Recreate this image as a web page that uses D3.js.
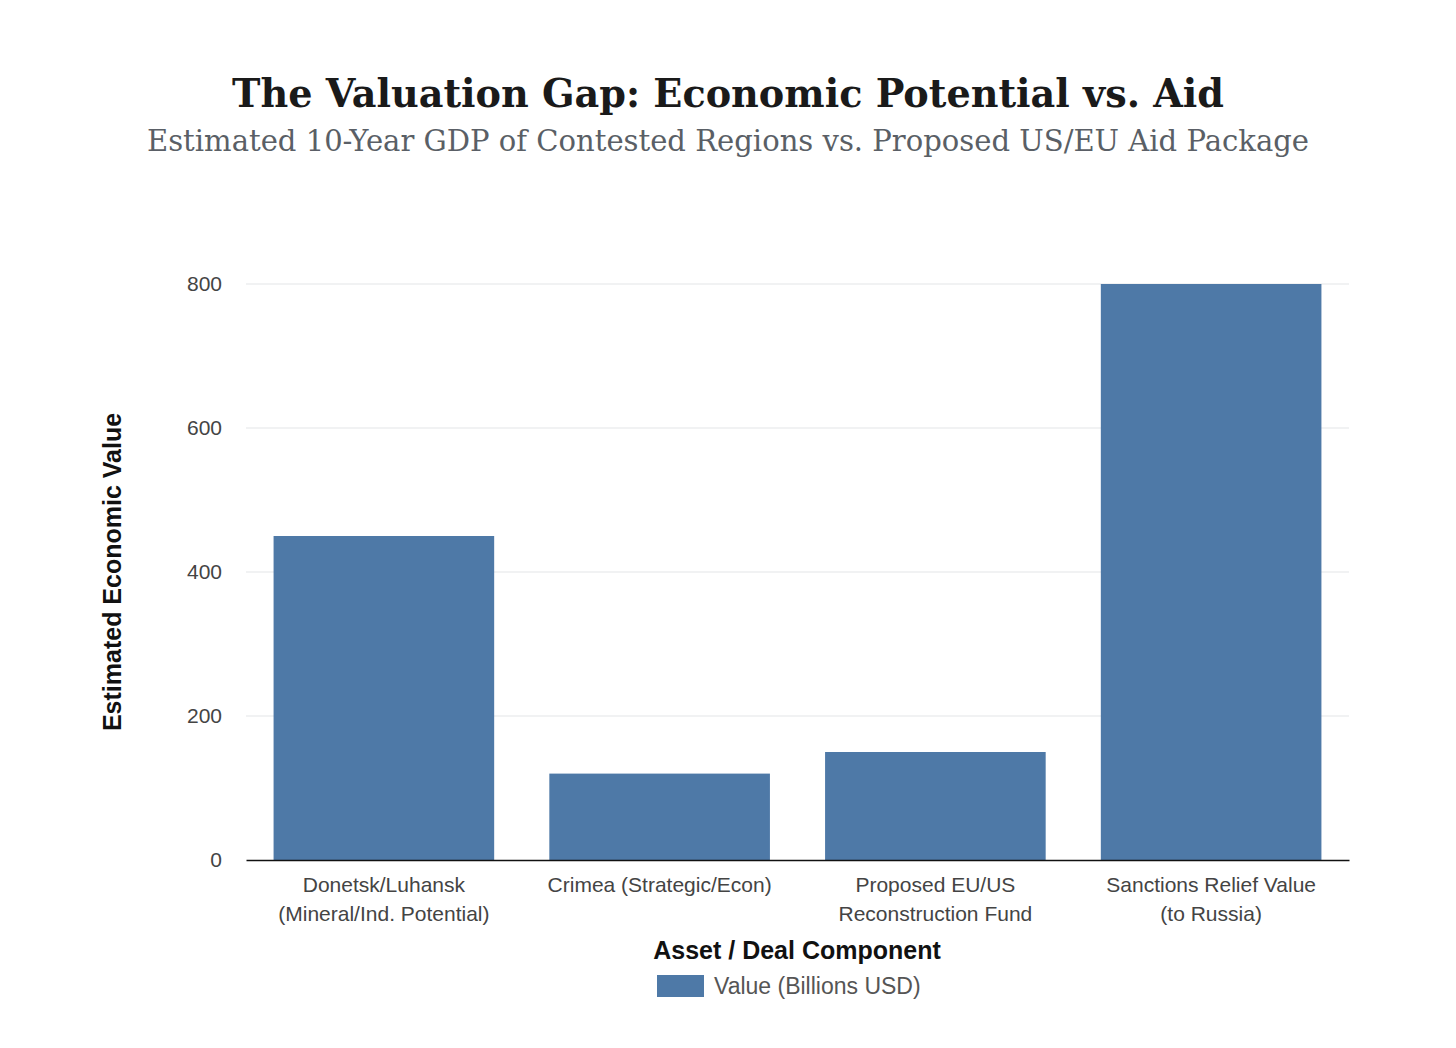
<!DOCTYPE html>
<html>
<head>
<meta charset="utf-8">
<script src="https://cdn.jsdelivr.net/npm/d3@7"></script>
<style>
  body { margin: 0; background: #fff; }
  .tick text { font-family: "Liberation Sans", Arial, sans-serif; }
</style>
</head>
<body>
<div id="chart"></div>
<script>
var svgWidth = 1456;
var svgHeight = 1048;

var margin = { top: 284, right: 107, bottom: 188, left: 246 };
var width = svgWidth - margin.left - margin.right;
var height = svgHeight - margin.top - margin.bottom;

// data
var categories = [
  ["Donetsk/Luhansk", "(Mineral/Ind. Potential)"],
  ["Crimea (Strategic/Econ)"],
  ["Proposed EU/US", "Reconstruction Fund"],
  ["Sanctions Relief Value", "(to Russia)"]
];
var values = [450, 120, 150, 800];
var yTicks = [0, 200, 400, 600, 800];
var seriesName = "Value (Billions USD)";

var svg = d3.select("#chart")
  .append("svg")
  .attr("width", svgWidth)
  .attr("height", svgHeight);

// titles
svg.append("text")
  .attr("x", 728)
  .attr("y", 107)
  .attr("text-anchor", "middle")
  .style("font-family", "'DejaVu Serif', serif")
  .style("font-weight", "bold")
  .style("font-size", "40px")
  .attr("textLength", 992)
  .attr("lengthAdjust", "spacingAndGlyphs")
  .style("fill", "#1a1a1a")
  .text("The Valuation Gap: Economic Potential vs. Aid");

svg.append("text")
  .attr("x", 728)
  .attr("y", 151)
  .attr("text-anchor", "middle")
  .style("font-family", "'DejaVu Serif', serif")
  .style("font-size", "29px")
  .attr("textLength", 1162)
  .attr("lengthAdjust", "spacingAndGlyphs")
  .style("fill", "#5a5f66")
  .text("Estimated 10-Year GDP of Contested Regions vs. Proposed US/EU Aid Package");

var chartGroup = svg.append("g")
  .attr("transform", `translate(${margin.left}, ${margin.top})`);

var xScale = d3.scaleBand()
  .domain(d3.range(categories.length))
  .range([0, width])
  .paddingInner(0.2)
  .paddingOuter(0.1);

var yScale = d3.scaleLinear()
  .domain([0, 800])
  .range([height, 0]);

// gridlines
chartGroup.append("g")
  .selectAll("line")
  .data(yTicks.slice(1))
  .enter()
  .append("line")
  .attr("x1", 0)
  .attr("x2", width)
  .attr("y1", d => yScale(d))
  .attr("y2", d => yScale(d))
  .attr("stroke", "#e3e5e8")
  .attr("stroke-width", 1.2);

// y axis labels
var leftAxis = d3.axisLeft(yScale).tickValues(yTicks).tickSize(0).tickPadding(24);
var yAxis = chartGroup.append("g").call(leftAxis);
yAxis.select(".domain").remove();
yAxis.selectAll("text")
  .style("font-size", "21px")
  .style("fill", "#444");

// bars
chartGroup.selectAll("rect")
  .data(values)
  .enter()
  .append("rect")
  .attr("x", (d, i) => xScale(i))
  .attr("y", d => yScale(d))
  .attr("width", xScale.bandwidth())
  .attr("height", d => height - yScale(d))
  .attr("fill", "#4e79a7");

// x axis
var bottomAxis = d3.axisBottom(xScale).tickSize(0).tickFormat("");
var xAxis = chartGroup.append("g")
  .attr("transform", `translate(0, ${height})`)
  .call(bottomAxis);
xAxis.select(".domain").attr("stroke", "#111").attr("stroke-width", 1.5);

xAxis.selectAll(".tick").each(function(d) {
  var t = d3.select(this).append("text")
    .attr("text-anchor", "middle")
    .style("font-family", "'Liberation Sans', Arial, sans-serif")
    .style("font-size", "21px")
    .style("fill", "#444");
  categories[d].forEach(function(line, j) {
    t.append("tspan")
      .attr("x", 0)
      .attr("y", 32 + j * 29)
      .text(line);
  });
});

// axis titles
svg.append("text")
  .attr("x", 797)
  .attr("y", 959)
  .attr("text-anchor", "middle")
  .style("font-family", "'Liberation Sans', Arial, sans-serif")
  .style("font-weight", "bold")
  .style("font-size", "25px")
  .style("fill", "#111")
  .text("Asset / Deal Component");

svg.append("text")
  .attr("transform", "rotate(-90)")
  .attr("x", -572)
  .attr("y", 121)
  .attr("text-anchor", "middle")
  .style("font-family", "'Liberation Sans', Arial, sans-serif")
  .style("font-weight", "bold")
  .style("font-size", "25px")
  .style("fill", "#111")
  .text("Estimated Economic Value");

// legend
var legend = svg.append("g").attr("transform", "translate(657, 975)");
legend.append("rect")
  .attr("width", 47)
  .attr("height", 22)
  .attr("fill", "#4e79a7");
legend.append("text")
  .attr("x", 57)
  .attr("y", 19)
  .style("font-family", "'Liberation Sans', Arial, sans-serif")
  .style("font-size", "23px")
  .style("fill", "#555")
  .text(seriesName);
</script>
</body>
</html>
